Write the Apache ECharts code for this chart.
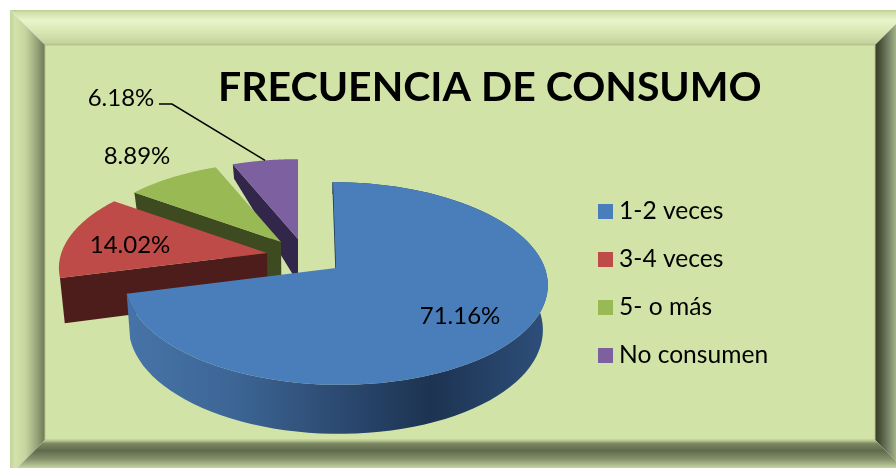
<!DOCTYPE html>
<html>
<head>
<meta charset="utf-8">
<style>
html, body { margin: 0; padding: 0; background: #fff; }
#chart { width: 896px; height: 468px; }
</style>
<script src="https://cdn.jsdelivr.net/npm/echarts@6/dist/echarts.min.js"></script>
</head>
<body>
<div id="chart"></div>
<script>
const categories = ['1-2 veces', '3-4 veces', '5- o más', 'No consumen'];
const shares = [71.16, 14.02, 8.89, 6.18];
const chartTitle = 'FRECUENCIA DE CONSUMO';

const FONT = 'Lato, Carlito, sans-serif';
const topColors = ['#4A7EBB', '#BE4B48', '#98B954', '#7D60A0'];
const wallColors = [null, '#4D1D1C', '#3E4A20', '#32264A'];
// apex of each pulled-out slice, its radius scale and its label
const apexes = [[336, 268], [267, 253], [281, 242], [298, 239]];
const scales = [1, 0.97, 0.93, 0.93];
const widths = [0.985, 1, 1, 1];
const skewX = [0.035, 0, 0, 0];
const labelPos = [[460, 316], [130, 245], [137, 156], [121, 98]];

const RX = 212, RY = 99, PERSP = 0.1527;

// the printed shares add up to 100.25, so angles go by the real total
const total = shares.reduce((a, b) => a + b, 0);
const startAngle = (i) => shares.slice(0, i).reduce((a, b) => a + b, 0) / total * Math.PI * 2;

// disk point to screen, Y runs towards the viewer
const project = (i, theta, r) => {
    const X = Math.sin(theta) * r, Y = -Math.cos(theta) * r;
    const s = scales[i] / (1 - PERSP * Y);
    const dy = Y * RY * s;
    return { x: apexes[i][0] + X * RX * widths[i] * s + skewX[i] * dy, y: apexes[i][1] + dy, Y };
};
const drop = (p) => {
    const d = p.Y >= 0 ? 44 + 5 * p.Y : 44 + 32 * p.Y;
    return [p.x + (300 - p.x) * 0.02, p.y + d];
};

const sliceItem = (i) => (params, api) => {
    const from = startAngle(i);
    const to = from + api.value(0) / total * Math.PI * 2;
    const apex = project(i, 0, 0);
    const arc = [];
    for (let k = 0; k <= 90; k++) arc.push(project(i, from + (to - from) * k / 90, 1));
    const top = [[apex.x, apex.y]].concat(arc.map((p) => [p.x, p.y]));
    const children = [];

    if (i === 0) {
        children.push({
            type: 'polygon',
            shape: { points: arc.map((p) => [p.x, p.y]).concat(arc.map(drop).reverse()) },
            style: {
                fill: {
                    type: 'linear', global: true, x: 127, y: 0, x2: 549, y2: 0,
                    colorStops: [
                        { offset: 0, color: '#4673A8' },
                        { offset: 0.25, color: '#3D6695' },
                        { offset: 0.5, color: '#2C4A72' },
                        { offset: 0.72, color: '#1D3351' },
                        { offset: 1, color: '#2E507C' }
                    ]
                }
            }
        });
        children.push({
            type: 'polyline',
            shape: { points: [[apex.x, apex.y], [arc[0].x, arc[0].y]] },
            style: { stroke: '#1D3351', lineWidth: 1.5, fill: 'none' }
        });
    } else {
        const far = arc[0];
        children.push({
            type: 'polygon',
            shape: { points: [[apex.x, apex.y], [far.x, far.y], drop(far), drop(apex)] },
            style: { fill: wallColors[i] }
        });
    }
    children.push({ type: 'polygon', shape: { points: top }, style: { fill: topColors[i] } });

    if (i === 3) {
        const mid = project(i, (from + to) / 2, 1);
        children.push({
            type: 'polyline',
            shape: { points: [[159, 104], [172, 104], [mid.x, mid.y]] },
            style: { stroke: '#000', lineWidth: 1.5, fill: 'none' }
        });
    }
    children.push({
        type: 'text',
        style: {
            text: api.value(0).toFixed(2) + '%',
            x: labelPos[i][0], y: labelPos[i][1],
            align: 'center', verticalAlign: 'middle',
            fill: '#000', font: '24px ' + FONT
        }
    });
    return { type: 'group', children };
};

const grad = (x, y, x2, y2, stops) => ({
    type: 'linear', x, y, x2, y2,
    colorStops: stops.map((s) => ({ offset: s[0], color: s[1] }))
});

const bevel = (points, fill) => ({
    type: 'polygon', z: 0, silent: true, shape: { points }, style: { fill }
});

const chart = echarts.init(document.getElementById('chart'), null, { renderer: 'canvas' });
chart.setOption({
    animation: false,
    backgroundColor: '#fff',
    graphic: [
        bevel([[10, 10], [910, 10], [875, 45], [45, 45]], grad(0, 0, 0, 1, [
            [0, '#BCCB94'], [0.06, '#CFDFA8'], [0.3, '#E9F4CB'], [0.6, '#D9E8B5'], [0.92, '#C6D6A0'], [1, '#B4C48E']
        ])),
        bevel([[10, 10], [45, 45], [45, 440], [10, 475]], grad(0, 0, 1, 0, [
            [0, '#C3D39C'], [0.15, '#D2E2AA'], [0.45, '#C4D49E'], [0.75, '#99A87C'], [1, '#6C7854']
        ])),
        bevel([[910, 10], [910, 475], [875, 440], [875, 45]], grad(0, 0, 1, 0, [
            [0, '#353D29'], [0.15, '#4A5339'], [0.4, '#79866A'], [0.6, '#A3B286'], [1, '#C8D8A2']
        ])),
        bevel([[45, 440], [875, 440], [910, 475], [10, 475]], grad(0, 0, 0, 1, [
            [0, '#C7D6A0'], [0.1, '#7C8862'], [0.3, '#5E6A4B'], [0.55, '#85936C'], [0.8, '#C4D49E'], [1, '#D0E0A8']
        ])),
        {
            type: 'rect', z: 0, silent: true,
            shape: { x: 45, y: 45, width: 830, height: 395 },
            style: { fill: '#D2E3A7', stroke: '#B4C48E', lineWidth: 1 }
        }
    ],
    title: {
        text: chartTitle,
        left: 218, top: 67,
        padding: 0,
        textStyle: { fontFamily: FONT, fontSize: 41, fontWeight: 'bold', color: '#000' }
    },
    legend: {
        data: categories,
        orient: 'vertical',
        left: 598, top: 199,
        padding: 0,
        icon: 'rect',
        itemWidth: 15, itemHeight: 15,
        itemGap: 23,
        selectedMode: false,
        textStyle: { fontFamily: FONT, fontSize: 24.6, color: '#000', padding: [0, 0, 0, 1] }
    },
    // far slices first, the big one goes on top
    series: categories.map((name, i) => ({
        type: 'custom',
        name,
        coordinateSystem: 'none',
        z: 5 + (i === 0 ? 4 : 4 - i),
        itemStyle: { color: topColors[i] },
        silent: true,
        renderItem: sliceItem(i),
        data: [[shares[i]]]
    }))
});
</script>
</body>
</html>
